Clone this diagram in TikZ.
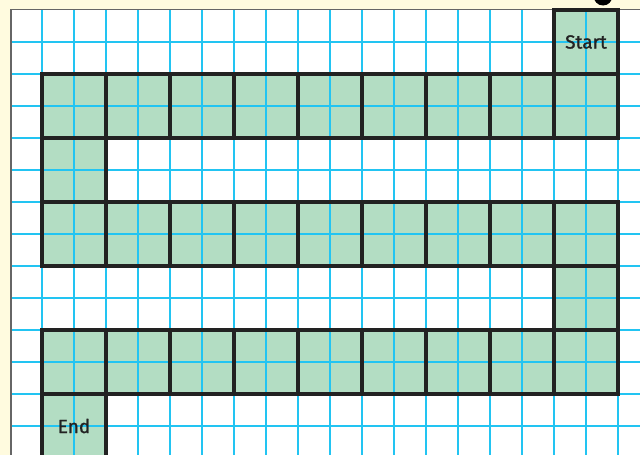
\documentclass[tikz,border=0pt]{standalone}
\usepackage{fontspec}
\newfontfamily\labfont[FakeBold=1.2]{Fira Sans}
\definecolor{cream}{HTML}{FFFBDF}
\definecolor{gridblue}{HTML}{22C4F2}
\definecolor{cellgreen}{HTML}{B3DDC3}
\definecolor{edgecol}{HTML}{222222}
\definecolor{papergray}{HTML}{666666}
\begin{document}
\begin{tikzpicture}[x=1pt,y=-1pt,
  gridline/.style={draw=gridblue,line width=1.3pt},
  cellbox/.style={draw=edgecol,line width=3.2pt,minimum size=64pt,inner sep=0pt,font=\labfont\fontsize{19}{21}\selectfont,text=edgecol}]
\useasboundingbox (0,0) rectangle (640,455);
\fill[cream] (0,0) rectangle (640,455);
\fill[white] (11,9) rectangle (640,455);
% green fills
\foreach \c/\r in {8/0,0/1,1/1,2/1,3/1,4/1,5/1,6/1,7/1,8/1,0/2,0/3,1/3,2/3,3/3,4/3,5/3,6/3,7/3,8/3,8/4,0/5,1/5,2/5,3/5,4/5,5/5,6/5,7/5,8/5,0/6}
  \fill[cellgreen] ({42+64*\c},{10+64*\r}) rectangle +(64,64);
% grid
\foreach \x in {42,74,...,650} \draw[gridline] (\x,9) -- (\x,455);
\foreach \y in {42,74,...,458} \draw[gridline] (11,\y) -- (640,\y);
% paper edge
\draw[papergray,line width=1.6pt] (11,455) -- (11,9.5) -- (640,9.5);
% dot
\fill[black] (603,-3.8) circle (9.3);
% cell borders
\foreach \c/\r in {0/1,1/1,2/1,3/1,4/1,5/1,6/1,7/1,8/1,0/2,0/3,1/3,2/3,3/3,4/3,5/3,6/3,7/3,8/3,8/4,0/5,1/5,2/5,3/5,4/5,5/5,6/5,7/5,8/5}
  \node[cellbox] (c-\c-\r) at ({74+64*\c},{42+64*\r}) {};
\node[cellbox] (start) at ({74+64*8},42) {Start};
\node[cellbox] (end) at (74,{42+64*6}) {End};
\end{tikzpicture}
\end{document}
